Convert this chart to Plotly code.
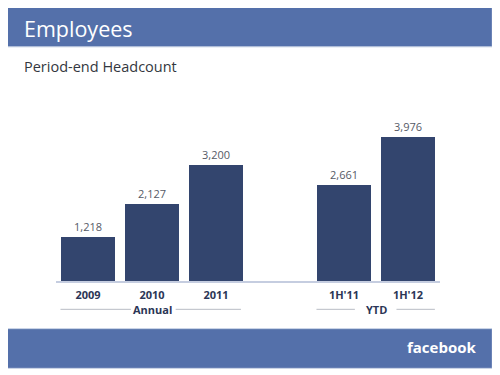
import plotly.graph_objects as go

categories = ["2009", "2010", "2011", "1H'11", "1H'12"]
positions = [0, 1, 2, 4, 5]
headcount = [1218, 2127, 3200, 2661, 3976]
group_labels = ["Annual", "YTD"]

OFF = 8  # page body margin
W, H = 500 - OFF, 375 - OFF
# plot area in page pixels
PL, PR, PT, PB = 56.4, 440.4, 117.8, 280.7
L, R, T, B = PL - OFF, W - (PR - OFF), PT - OFF, H - (PB - OFF)
PW, PH = W - L - R, H - T - B
XMIN, XMAX = -0.5, 5.5

def px_x(px):
    return (px - OFF - L) / PW

def px_y(py):
    return (H - B - (py - OFF)) / PH

def dx(v):  # data x to paper
    return (v - XMIN) / (XMAX - XMIN)

BAR = "#33456e"
BAND = "#5470aa"

fig = go.Figure(go.Bar(
    x=positions, y=headcount, width=0.83,
    marker=dict(color=BAR, line=dict(width=0)),
    text=[f"{v:,}" for v in headcount], textposition="outside",
    textfont=dict(family="Open Sans", size=11, color="#555a66"),
    cliponaxis=False, hoverinfo="skip",
))

shapes = []
for y0, y1 in [(46.7, 7.3), (368, 328.3)]:
    shapes.append(dict(type="rect", xref="paper", yref="paper",
                       x0=px_x(7.3), x1=px_x(492.7), y0=px_y(y0), y1=px_y(y1),
                       fillcolor=BAND, line=dict(color="#c9d3e6", width=1), layer="below"))

# group bracket lines
ly = px_y(309)
for a, b in [(-0.43, 0.67), (1.37, 2.39), (3.57, 4.17), (4.82, 5.42)]:
    shapes.append(dict(type="line", xref="paper", yref="paper",
                       x0=dx(a), x1=dx(b), y0=ly, y1=ly,
                       line=dict(color="#b8bcc4", width=1)))

annotations = [
    dict(text="Employees", xref="paper", yref="paper", x=px_x(22), y=px_y(28),
         xanchor="left", yanchor="middle", showarrow=False,
         font=dict(family="Open Sans", size=21.5, color="white")),
    dict(text="Period-end Headcount", xref="paper", yref="paper", x=px_x(22), y=px_y(66),
         xanchor="left", yanchor="middle", showarrow=False,
         font=dict(family="Open Sans", size=14.5, color="#333740")),
    dict(text="<b>facebook</b>", xref="paper", yref="paper", x=px_x(479), y=px_y(347),
         xanchor="right", yanchor="middle", showarrow=False,
         font=dict(family="Open Sans", size=15, color="white")),
    dict(text="15", xref="paper", yref="paper", x=px_x(495), y=px_y(372),
         xanchor="center", yanchor="middle", showarrow=False,
         font=dict(family="Open Sans", size=4, color="#777")),
]
for lbl, cx in zip(group_labels, [1, 4.5]):
    annotations.append(dict(text=f"<b>{lbl}</b>", xref="paper", yref="paper",
                            x=dx(cx), y=ly, xanchor="center", yanchor="middle",
                            showarrow=False,
                            font=dict(family="Open Sans", size=11, color="#2b3656")))

fig.update_layout(
    width=W, height=H, margin=dict(l=L, r=R, t=T, b=B, pad=0),
    paper_bgcolor="white", plot_bgcolor="white",
    showlegend=False, bargap=0,
    shapes=shapes, annotations=annotations,
    xaxis=dict(range=[XMIN, XMAX], tickvals=positions,
               ticktext=[f"<b>{c}</b>" for c in categories],
               tickfont=dict(family="Open Sans", size=11, color="#2b3656"),
               showline=True, linecolor="#c5cde0", linewidth=1.5,
               showgrid=False, zeroline=False, ticks="", ticklabelstandoff=3),
    yaxis=dict(range=[0, 4500], visible=False, showgrid=False, zeroline=False),
)

fig.write_html("out.html")
